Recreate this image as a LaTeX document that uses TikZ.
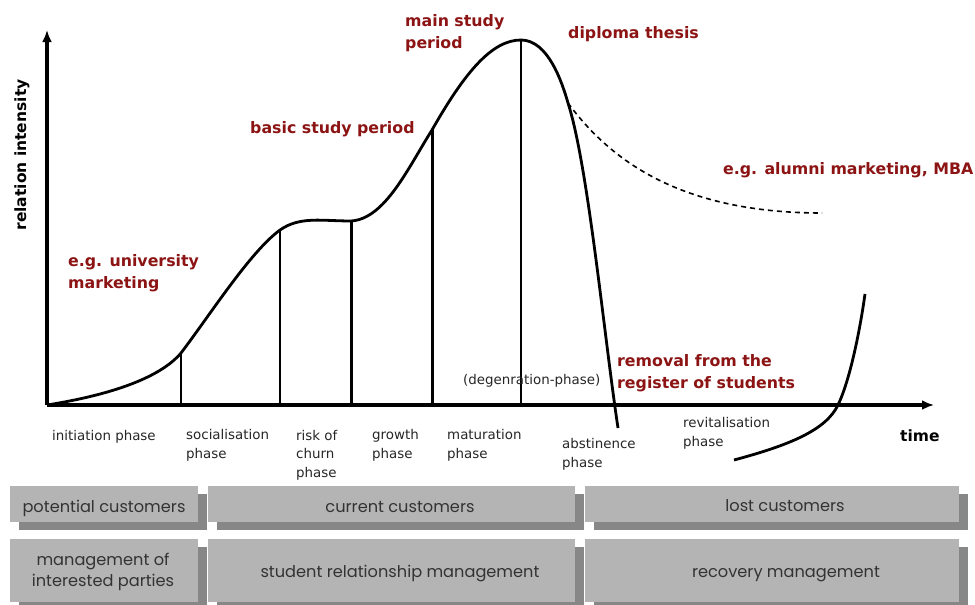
\documentclass[tikz,border=0pt]{standalone}
\usepackage{fontspec}
\setmainfont{DejaVu Sans}
\newfontfamily\barfont{Poppins}
\usetikzlibrary{arrows.meta,shadows}
\definecolor{darkred}{RGB}{140,20,20}
\definecolor{bargray}{RGB}{180,180,180}
\definecolor{shadegray}{RGB}{135,135,135}
\tikzset{
  phase/.style={anchor=base west, inner sep=0, align=left, font=\fontsize{13.4}{18.5}\selectfont, text=black!85},
  note/.style={anchor=base west, inner sep=0, align=left, font=\fontsize{15.8}{22}\selectfont\bfseries, text=darkred},
  bar/.style={anchor=north west, inner sep=0, fill=bargray, general shadow={fill=shadegray, shadow xshift=9pt, shadow yshift=-8pt}},
  bartext/.style={anchor=base, inner sep=0, align=center, font=\barfont\fontsize{16.2}{21}\selectfont, text=black!80},
}

\begin{document}
\begin{tikzpicture}[x=1pt,y=-1pt]
\useasboundingbox (0,0) rectangle (975,605);
\coordinate (0) at (47,405);
\coordinate (ytop) at (47,30);
\coordinate (xend) at (934,405);
\coordinate (s1) at (181,353);
\coordinate (s2) at (280,230);
\coordinate (s3) at (351,221);
\coordinate (s4) at (432,130);
\coordinate (s5) at (521,40);
\coordinate (d) at (568,103);
\coordinate (e) at (618,428);
\coordinate (r0) at (734,460);
\coordinate (r1) at (838,405);
\coordinate (r2) at (865,294);
% phase borders
\draw[line width=2.2pt] (s1) -- (s1 |- 0);
\draw[line width=2.8pt] (s2) -- (s2 |- 0);
\draw[line width=3pt] (s3) -- (s3 |- 0);
\draw[line width=3pt] (s4) -- (s4 |- 0);
\draw[line width=2.2pt] (s5) -- (s5 |- 0);
% axes
\draw[line width=3.4pt, -{Latex[length=12pt,width=10pt]}] (0) -- (ytop);
\draw[line width=3.4pt, -{Latex[length=12pt,width=10pt]}] (0) -- (xend);
% life cycle
\draw[line width=2.8pt] (0) .. controls (110,395) and (160,378) .. (s1)
  .. controls (210,315) and (250,252) .. (s2)
  .. controls (300,216) and (322,221) .. (s3)
  .. controls (385,219) and (408,168) .. (s4)
  .. controls (465,72) and (492,40) .. (s5)
  .. controls (548,40) and (562,82) .. (d)
  .. controls (588,165) and (604,335) .. (e);
\draw[line width=1.6pt, dash pattern=on 5pt off 4pt] (d) .. controls (610,160) and (680,213) .. (822,213);
\draw[line width=2.8pt] (r0) .. controls (790,445) and (826,430) .. (r1)
  .. controls (850,380) and (860,330) .. (r2);
% labels
\node[rotate=90, font=\fontsize{15.5}{18}\selectfont\bfseries] (yl) at (22,155) {relation intensity};
\node[anchor=base west, inner sep=0, font=\fontsize{15.5}{18}\selectfont\bfseries] (xl) at (900,441) {time};
\node[note] (uni) at (68,288) {e.g. university\\marketing};
\node[note] (basic) at (250,133) {basic study period};
\node[note] (main) at (405,48) {main study\\period};
\node[note] (thesis) at (568,38) {diploma thesis};
\node[note] (alumni) at (723,174) {e.g. alumni marketing, MBA};
\node[note] (removal) at (617,388) {removal from the\\register of students};
\node[phase] (p1) at (52,440) {initiation phase};
\node[phase] (p2) at (186,458) {socialisation\\phase};
\node[phase] (p3) at (296,477) {risk of\\churn\\phase};
\node[phase] (p4) at (372,458) {growth\\phase};
\node[phase] (p5) at (447,458) {maturation\\phase};
\node[phase] (degen) at (463,384) {(degenration-phase)};
\node[phase] (p6) at (562,467) {abstinence\\phase};
\node[phase] (p7) at (683,446) {revitalisation\\phase};
% customer bars
\node[bar, minimum width=188pt, minimum height=36pt] (pot) at (10,486) {};
\node[bar, minimum width=367pt, minimum height=36pt] (cur) at (208,486) {};
\node[bar, minimum width=374pt, minimum height=36pt] (lost) at (585,486) {};
\node[bar, minimum width=188pt, minimum height=63pt] (mip) at (10,539) {};
\node[bar, minimum width=367pt, minimum height=63pt] (srm) at (208,539) {};
\node[bar, minimum width=374pt, minimum height=63pt] (rec) at (585,539) {};
\node[bartext] (potl) at (104,512) {potential customers};
\node[bartext] (curl) at (400,512) {current customers};
\node[bartext] (lostl) at (785,511) {lost customers};
\node[bartext] (mipl) at (103,586) {management of\\interested parties};
\node[bartext] (srml) at (400,577) {student relationship management};
\node[bartext] (recl) at (786,577) {recovery management};
\end{tikzpicture}
\end{document}
